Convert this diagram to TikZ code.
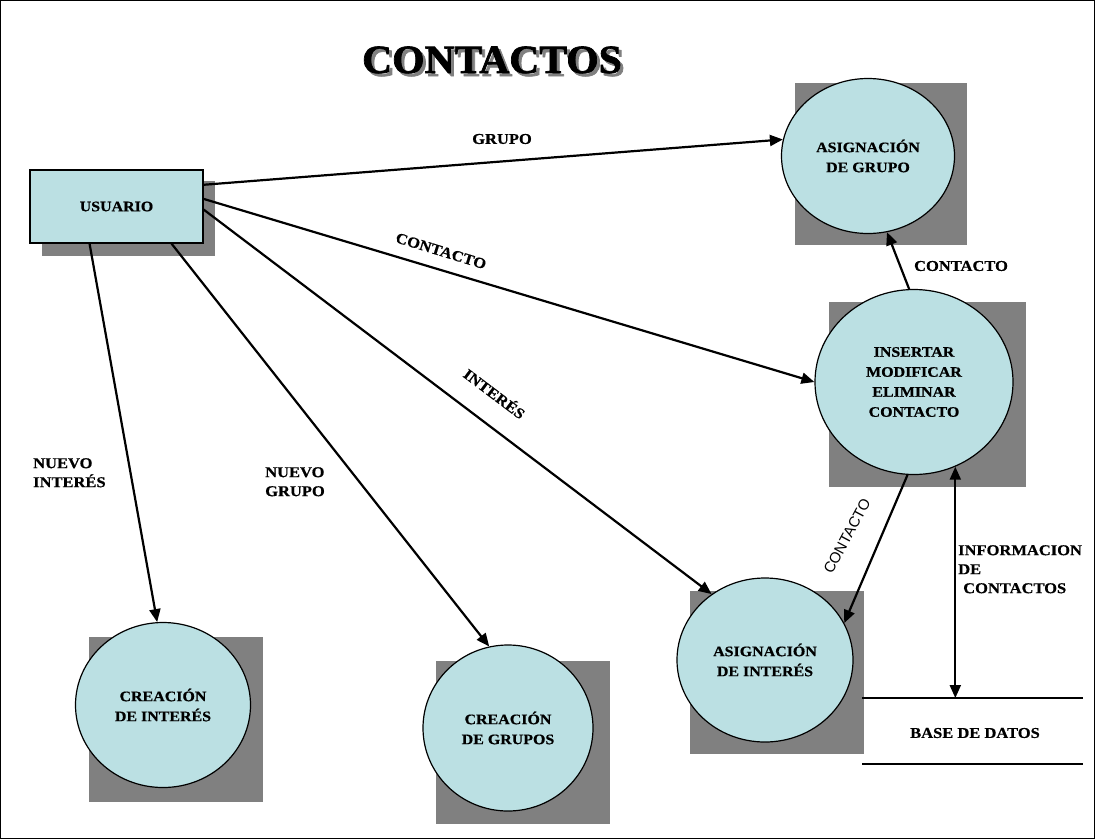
\documentclass[tikz,border=0pt]{standalone}
\usepackage{fontspec}
\setmainfont[FakeStretch=1.1,BoldFeatures={FakeBold=0.6}]{Liberation Serif}
\newfontfamily\titlefont[FakeBold=1.8,FakeStretch=1.04]{Liberation Serif}
\newfontfamily\labelsans{Liberation Sans}
\usetikzlibrary{shapes.geometric,arrows.meta}
\definecolor{procfill}{RGB}{187,224,227}
\definecolor{shadowgray}{RGB}{128,128,128}

\begin{document}
\begin{tikzpicture}[x=1pt,y=-1pt,
proc/.style={ellipse,draw,line width=1.2pt,fill=procfill,align=center,inner sep=0pt,font=\bfseries\fontsize{14.5}{20}\selectfont},
shade/.style={fill=shadowgray},
flow/.style={line width=2.2pt,-{Triangle[length=13pt,width=11pt]}},
lbl/.style={font=\bfseries\fontsize{15}{19}\selectfont,align=left,inner sep=0pt}]%\usetikzlibrary{shapes.geometric,arrows.meta}
\useasboundingbox (0,0) rectangle (1095,839);
\draw[line width=0.8pt] (0.5,0.5) rectangle (1094.5,838.5);
\node[font=\titlefont\bfseries\fontsize{40}{40}\selectfont,text=shadowgray,anchor=base] at (495,76) {CONTACTOS};
\node[font=\titlefont\bfseries\fontsize{40}{40}\selectfont,anchor=base] (title) at (492,73) {CONTACTOS};
\fill[shade] (42,181) rectangle (215,256);
\fill[shade] (795,83) rectangle (967,245);
\fill[shade] (829,302) rectangle (1026,487);
\fill[shade] (690,591) rectangle (864,754);
\fill[shade] (89,637) rectangle (263,802);
\fill[shade] (436,661) rectangle (610,824);
\node[draw,line width=1.2pt,fill=procfill,minimum width=173pt,minimum height=73pt,font=\bfseries\fontsize{14.5}{20}\selectfont] (usuario) at (116.5,206.5) {USUARIO};
\node[proc,minimum width=173pt,minimum height=155pt] (grupo) at (868,156) {ASIGNACIÓN\\DE GRUPO};
\node[proc,minimum width=198pt,minimum height=185pt] (insertar) at (914,382) {INSERTAR\\MODIFICAR\\ELIMINAR\\CONTACTO};
\node[proc,minimum width=176pt,minimum height=164pt] (asiginteres) at (765,660) {ASIGNACIÓN\\DE INTERÉS};
\node[proc,minimum width=175pt,minimum height=165pt] (creainteres) at (163,705) {CREACIÓN\\DE INTERÉS};
\node[proc,minimum width=170pt,minimum height=166pt] (creagrupos) at (508,728) {CREACIÓN\\DE GRUPOS};
\draw[flow] (usuario.14) -- (grupo.169);
\draw[flow] (usuario.5.6) -- (insertar.180);
\draw[flow] (usuario.-2.3) -- (asiginteres.129.6);
\draw[flow] (usuario.234) -- (creainteres.94);
\draw[flow] (usuario.-34.3) -- (creagrupos.103);
\draw[flow] (insertar.93) -- (grupo.-76.6);
\draw[flow] (insertar.266) -- (asiginteres.25);
\coordinate (dbtop) at (955,698);
\draw[line width=2.2pt,{Triangle[length=13pt,width=11pt]}-{Triangle[length=13pt,width=11pt]}] (insertar.-64) -- (insertar.-64 |- dbtop);
\draw[line width=1.2pt] (862,698) -- (1083,698);
\draw[line width=1.2pt] (862,764) -- (1083,764);
\node[lbl] (db) at (975,733) {BASE DE DATOS};
\node[lbl] (lgrupo) at (502,139) {GRUPO};
\node[lbl,rotate=-17] (lcontacto) at (441,251) {CONTACTO};
\node[lbl,rotate=-37] (linteres) at (495,393) {INTERÉS};
\node[lbl,anchor=north west] (lnuevoint) at (33,458) {NUEVO\\INTERÉS};
\node[lbl,anchor=north west] (lnuevogr) at (265,467) {NUEVO\\GRUPO};
\node[lbl] (lcontgrupo) at (961,266) {CONTACTO};
\node[font=\labelsans\fontsize{15}{18}\selectfont,rotate=62,inner sep=0pt] (lcontint) at (847,536) {CONTACTO};
\node[lbl,anchor=north west] (linfo) at (958,545) {INFORMACION\\DE\\\hspace{5pt}CONTACTOS};
\end{tikzpicture}
\end{document}
